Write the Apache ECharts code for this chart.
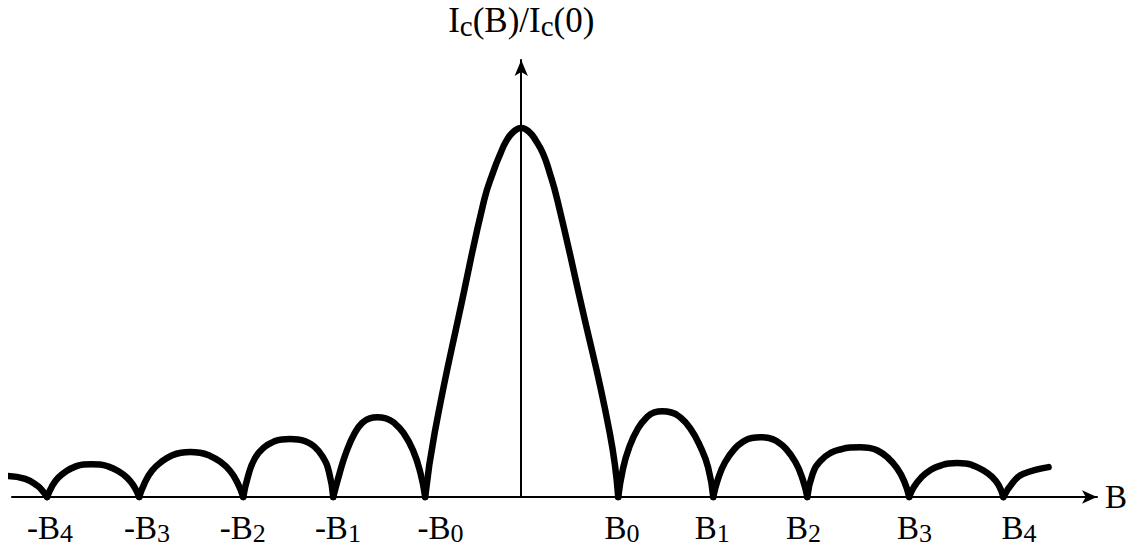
<!DOCTYPE html>
<html>
<head>
<meta charset="utf-8">
<title>Ic(B)/Ic(0)</title>
<script src="https://cdn.jsdelivr.net/npm/echarts@6/dist/echarts.min.js"></script>
<style>
  html, body { margin: 0; padding: 0; background: #fff; }
  #chart { width: 1144px; height: 546px; }
</style>
</head>
<body>
<div id="chart"></div>
<script>
// Field B in units of roughly one zero spacing; current normalised to Ic(0) = 1.
// Each arch is its own run so the zeros stay sharp cusps.
const tailLeft  = [[-5.40, 0.057], [-5.22, 0.049], [-5.09, 0.030], [-5.03, 0.014], [-4.99, 0]];
const lobeL4    = [[-4.99, 0], [-4.943, 0.027], [-4.874, 0.052], [-4.781, 0.071], [-4.688, 0.083], [-4.609, 0.088], [-4.526, 0.089],
                   [-4.436, 0.088], [-4.349, 0.083], [-4.248, 0.071], [-4.147, 0.052], [-4.072, 0.027], [-4.021, 0]];
const lobeL3    = [[-4.021, 0], [-3.967, 0.036], [-3.887, 0.071], [-3.779, 0.097], [-3.672, 0.113], [-3.581, 0.120], [-3.484, 0.122],
                   [-3.384, 0.120], [-3.289, 0.113], [-3.177, 0.097], [-3.066, 0.071], [-2.982, 0.036], [-2.926, 0]];
const lobeL2    = [[-2.926, 0], [-2.877, 0.055], [-2.803, 0.105], [-2.704, 0.135], [-2.605, 0.150], [-2.521, 0.156], [-2.432, 0.157],
                   [-2.351, 0.156], [-2.273, 0.151], [-2.183, 0.138], [-2.092, 0.110], [-2.024, 0.068], [-1.979, 0]];
const lobeL1    = [[-1.979, 0], [-1.911, 0.065], [-1.837, 0.125], [-1.753, 0.173], [-1.674, 0.201], [-1.595, 0.213], [-1.516, 0.216],
                   [-1.425, 0.213], [-1.339, 0.201], [-1.238, 0.173], [-1.137, 0.125], [-1.061, 0.065], [-1.011, 0]];
const mainLobe  = [[-1.011, 0], [-0.91, 0.176], [-0.62, 0.535], [-0.39, 0.805], [-0.295, 0.881], [-0.22, 0.930], [-0.158, 0.964],
                   [-0.084, 0.989], [0.00, 1.000], [0.084, 0.989], [0.158, 0.964], [0.23, 0.930], [0.30, 0.878], [0.38, 0.805],
                   [0.62, 0.535], [0.93, 0.176], [1.021, 0]];
const lobeR1    = [[1.021, 0], [1.067, 0.072], [1.137, 0.135], [1.229, 0.186], [1.322, 0.216], [1.401, 0.229], [1.484, 0.232],
                   [1.581, 0.229], [1.672, 0.216], [1.779, 0.186], [1.887, 0.135], [1.967, 0.080], [2.021, 0]];
const lobeR2    = [[2.021, 0], [2.071, 0.049], [2.145, 0.094], [2.244, 0.130], [2.343, 0.151], [2.426, 0.160], [2.516, 0.162],
                   [2.605, 0.160], [2.689, 0.151], [2.788, 0.130], [2.887, 0.094], [2.961, 0.049], [3.011, 0]];
const lobeR3    = [[3.011, 0], [3.066, 0.062], [3.150, 0.098], [3.262, 0.120], [3.373, 0.130], [3.468, 0.134], [3.568, 0.135],
                   [3.661, 0.133], [3.749, 0.126], [3.852, 0.108], [3.955, 0.078], [4.033, 0.041], [4.084, 0]];
const lobeR4    = [[4.084, 0], [4.135, 0.028], [4.211, 0.053], [4.312, 0.074], [4.413, 0.085], [4.499, 0.091], [4.589, 0.092],
                   [4.677, 0.091], [4.759, 0.085], [4.856, 0.073], [4.953, 0.055], [5.025, 0.032], [5.074, 0]];
const tailRight = [[5.074, 0], [5.18, 0.041], [5.28, 0.062], [5.55, 0.081]];

// Axis labels and where they sit along B
const tickLabels = ['-B4', '-B3', '-B2', '-B1', '-B0', 'B0', 'B1', 'B2', 'B3', 'B4'];
const labelAt    = [-4.96, -3.94, -2.93, -1.93, -0.85, 1.06, 2.01, 2.97, 4.14, 5.24];

const segments = [tailLeft, lobeL4, lobeL3, lobeL2, lobeL1, mainLobe, lobeR1, lobeR2, lobeR3, lobeR4, tailRight];

const FONT = 'Liberation Serif';

function subscripted(text, main, sub) {
  // last character is drawn lowered and smaller
  const head = text.slice(0, -1);
  const tail = text.slice(-1);
  return '{' + main + '|' + head + '}{' + sub + '|' + tail + '}';
}

const chart = echarts.init(document.getElementById('chart'), null, { renderer: 'svg' });

chart.setOption({
  animation: false,
  backgroundColor: '#ffffff',
  grid: { left: 12, right: 47, top: 60, bottom: 48, containLabel: false },
  xAxis: {
    type: 'value',
    min: -5.36,
    max: 6.06,
    splitLine: { show: false },
    axisTick: { show: false },
    axisLine: {
      show: true,
      onZero: false,
      symbol: ['none', 'arrow'],
      symbolSize: [10, 15],
      lineStyle: { color: '#000', width: 2 }
    },
    axisLabel: {
      customValues: labelAt,
      margin: 13,
      hideOverlap: false,
      formatter: function (v) {
        let best = 0;
        for (let i = 1; i < labelAt.length; i++) {
          if (Math.abs(labelAt[i] - v) < Math.abs(labelAt[best] - v)) best = i;
        }
        return subscripted(tickLabels[best], 'm', 's');
      },
      rich: {
        m: { fontFamily: FONT, fontSize: 33, color: '#000' },
        s: { fontFamily: FONT, fontSize: 26, color: '#000', padding: [10, 0, 0, 0] }
      }
    },
    name: 'B',
    nameLocation: 'end',
    nameGap: 8,
    nameTextStyle: { fontFamily: FONT, fontSize: 33, color: '#000' }
  },
  yAxis: {
    type: 'value',
    min: 0,
    max: 1.184,
    splitLine: { show: false },
    axisTick: { show: false },
    axisLabel: { show: false },
    axisLine: {
      show: true,
      onZero: true,
      symbol: ['none', 'arrow'],
      symbolSize: [10, 16],
      lineStyle: { color: '#000', width: 2 }
    },
    name: '{m|I}{s|c}{m|(B)/I}{s|c}{m|(0)}',
    nameLocation: 'end',
    nameGap: 20,
    nameTextStyle: {
      rich: {
        m: { fontFamily: FONT, fontSize: 35, color: '#000' },
        s: { fontFamily: FONT, fontSize: 29, color: '#000', padding: [10, 0, 0, 0] }
      }
    }
  },
  series: segments.map(function (pts) {
    return {
      type: 'line',
      data: pts,
      smooth: 0.5,
      showSymbol: false,
      silent: true,
      clip: false,
      lineStyle: { color: '#000', width: 6.5, cap: 'round', join: 'round' }
    };
  })
});
</script>
</body>
</html>
